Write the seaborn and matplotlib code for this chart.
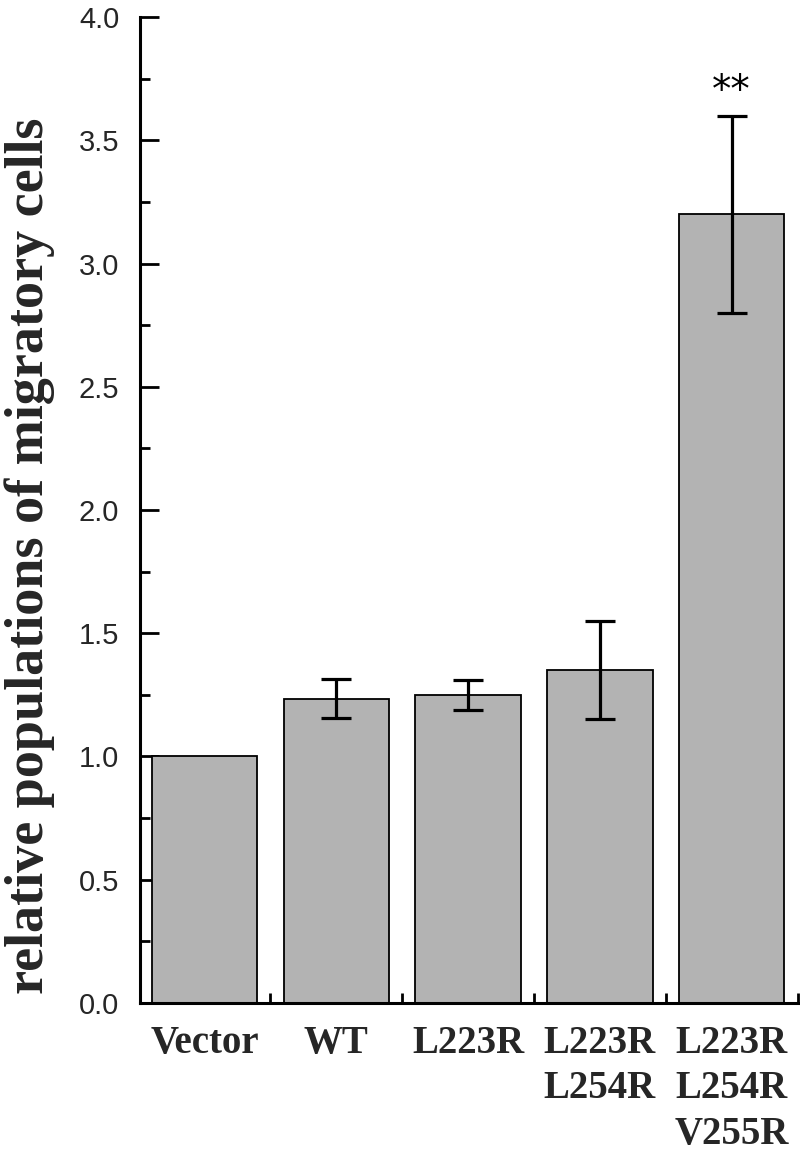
import numpy as np
import pandas as pd
import matplotlib
matplotlib.use("Agg")
import matplotlib.pyplot as plt
import seaborn as sns
from matplotlib.ticker import MultipleLocator

# data
groups = ["Vector", "WT", "L223R", "L223R\nL254R", "L223R\nL254R\nV255R"]
means = [1.0, 1.235, 1.25, 1.35, 3.2]
errors = [0.0, 0.08, 0.06, 0.2, 0.4]
stars = ["", "", "", "", "**"]

df = pd.DataFrame({"group": groups, "value": means})

sns.set_style("ticks")
plt.rcParams["font.family"] = ["Liberation Sans", "DejaVu Sans"]

fig = plt.figure(figsize=(8, 11.54), dpi=100)
ax = fig.add_axes([0.175, 0.131, 0.822, 0.854])

sns.barplot(data=df, x="group", y="value", color="#b3b3b3",
            edgecolor="black", linewidth=1.3, width=0.8, saturation=1,
            errorbar=None, ax=ax)

# error bars only where there is spread
for i, (m, e) in enumerate(zip(means, errors)):
    if e > 0:
        ax.errorbar(i, m, yerr=e, color="black", elinewidth=2.3,
                    capsize=10.5, capthick=2.3, fmt="none")
    if stars[i]:
        ax.text(i, m + e + 0.055, stars[i], ha="center", va="baseline",
                fontsize=28, color="black", fontfamily="DejaVu Sans")

ax.set_xlim(-0.49, 4.5)
ax.set_ylim(0, 4.0)
ax.yaxis.set_major_locator(MultipleLocator(0.5))
ax.yaxis.set_minor_locator(MultipleLocator(0.25))
ax.set_xticks(range(len(groups)))
ax.set_xticks(np.arange(0.5, len(groups), 1.0), minor=True)
ax.yaxis.set_major_formatter(matplotlib.ticker.FormatStrFormatter("%.1f"))

ax.tick_params(axis="both", which="major", direction="in", length=14,
               width=2, color="black")
ax.tick_params(axis="both", which="minor", direction="in", length=7,
               width=2, color="black")
ax.tick_params(axis="y", labelsize=21, pad=15)
ax.tick_params(axis="x", pad=16)

for lab in ax.get_xticklabels():
    lab.set_fontfamily("Liberation Serif")
    lab.set_fontweight("bold")
    lab.set_fontsize(28)
    lab.set_linespacing(1.3)

ax.set_xlabel("")
ax.set_ylabel("relative populations of migratory cells",
              fontfamily="Liberation Serif", fontweight="bold",
              fontsize=39)
ax.yaxis.set_label_coords(-0.129, 0.454)

sns.despine(ax=ax)
for side in ["left", "bottom"]:
    ax.spines[side].set_linewidth(2.2)
    ax.spines[side].set_color("black")

fig.savefig("out.png", dpi=100)
